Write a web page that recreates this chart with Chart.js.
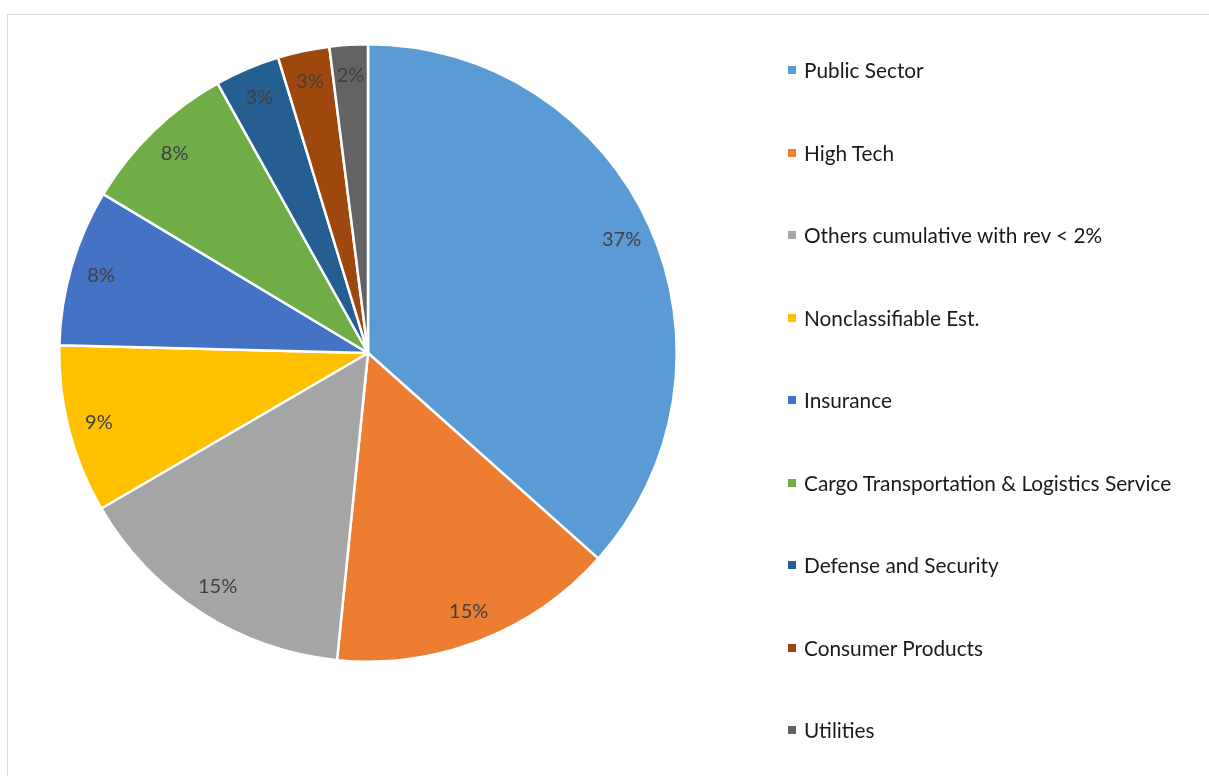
<!DOCTYPE html>
<html>
<head>
<meta charset="utf-8">
<script src="https://cdn.jsdelivr.net/npm/chart.js@4"></script>
<style>
  html, body { margin: 0; padding: 0; background: #fff; overflow: hidden; }
  #frame { position: absolute; left: 7px; top: 14px; width: 1300px; height: 900px; border: 1px solid #d9d9d9; }
  #wrap { position: absolute; left: 0; top: 0; width: 1209px; height: 776px; }
  #legend { position: absolute; left: 788px; top: 0; font-family: Lato, sans-serif; font-size: 20.8px; color: #1a1a1a; }
  .item { position: absolute; left: 0; white-space: nowrap; height: 20px; line-height: 20px; }
  .item span.box { position: absolute; left: 0; top: 6px; width: 8px; height: 8px; }
  .item span.txt { position: absolute; left: 16px; top: 0; }
</style>
</head>
<body>
<div id="frame"></div>
<div id="wrap"><canvas id="pieChart" width="1209" height="776"></canvas></div>
<div id="legend"></div>
<script>

var sectors = ["Public Sector","High Tech","Others cumulative with rev < 2%","Nonclassifiable Est.","Insurance","Cargo Transportation & Logistics Service","Defense and Security","Consumer Products","Utilities"];
var revenueShare = [36.6, 15.0, 15.0, 8.8, 8.2, 8.3, 3.4, 2.7, 2.0];
var sectorColors = ["#5b9bd5","#ed7d31","#a5a5a5","#ffc000","#4472c4","#70ad47","#255e91","#9e480e","#636363"];

// percent labels sitting near the rim of each slice
var pctLabels = {
  id: 'pctLabels',
  afterDatasetsDraw: function(chart){
    var ctx = chart.ctx;
    var data = chart.data.datasets[0].data;
    var total = data.reduce(function(a, b){ return a + b; }, 0);
    ctx.save();
    ctx.font = '20px Lato, sans-serif';
    ctx.fillStyle = '#404040';
    ctx.textAlign = 'center';
    ctx.textBaseline = 'middle';
    chart.getDatasetMeta(0).data.forEach(function(arc, i){
      var p = arc.getProps(['x','y','startAngle','endAngle','outerRadius'], true);
      var mid = (p.startAngle + p.endAngle) / 2;
      var r = p.outerRadius * 0.9;
      ctx.fillText(Math.round(data[i] / total * 100) + '%', p.x + Math.cos(mid) * r, p.y + Math.sin(mid) * r);
    });
    ctx.restore();
  }
};

function getPieChart(){

  var ctx = document.getElementById('pieChart').getContext('2d');
  var chart = new Chart(ctx, {
    type: 'pie',
    data: {
      labels: sectors,
      datasets: [{
        data: revenueShare,
        backgroundColor: sectorColors,
        borderColor: '#ffffff',
        borderWidth: 2.5
      }]
    },
    options: {
      responsive: false,
      animation: false,
      layout: { padding: { left: 58, top: 43, right: 531, bottom: 113 } },
      plugins: {
        legend: { display: false },
        tooltip: { enabled: false }
      }
    },
    plugins: [pctLabels]
  });

  // legend on the right, one row per sector
  var legend = document.getElementById('legend');
  sectors.forEach(function(name, i){
    var item = document.createElement('div');
    item.className = 'item';
    item.style.top = (60 + i * 82.5) + 'px';
    item.innerHTML = '<span class="box" style="background:' + sectorColors[i] + '"></span><span class="txt"></span>';
    item.querySelector('.txt').textContent = name;
    legend.appendChild(item);
  });
}

getPieChart();
</script>
</body>
</html>
